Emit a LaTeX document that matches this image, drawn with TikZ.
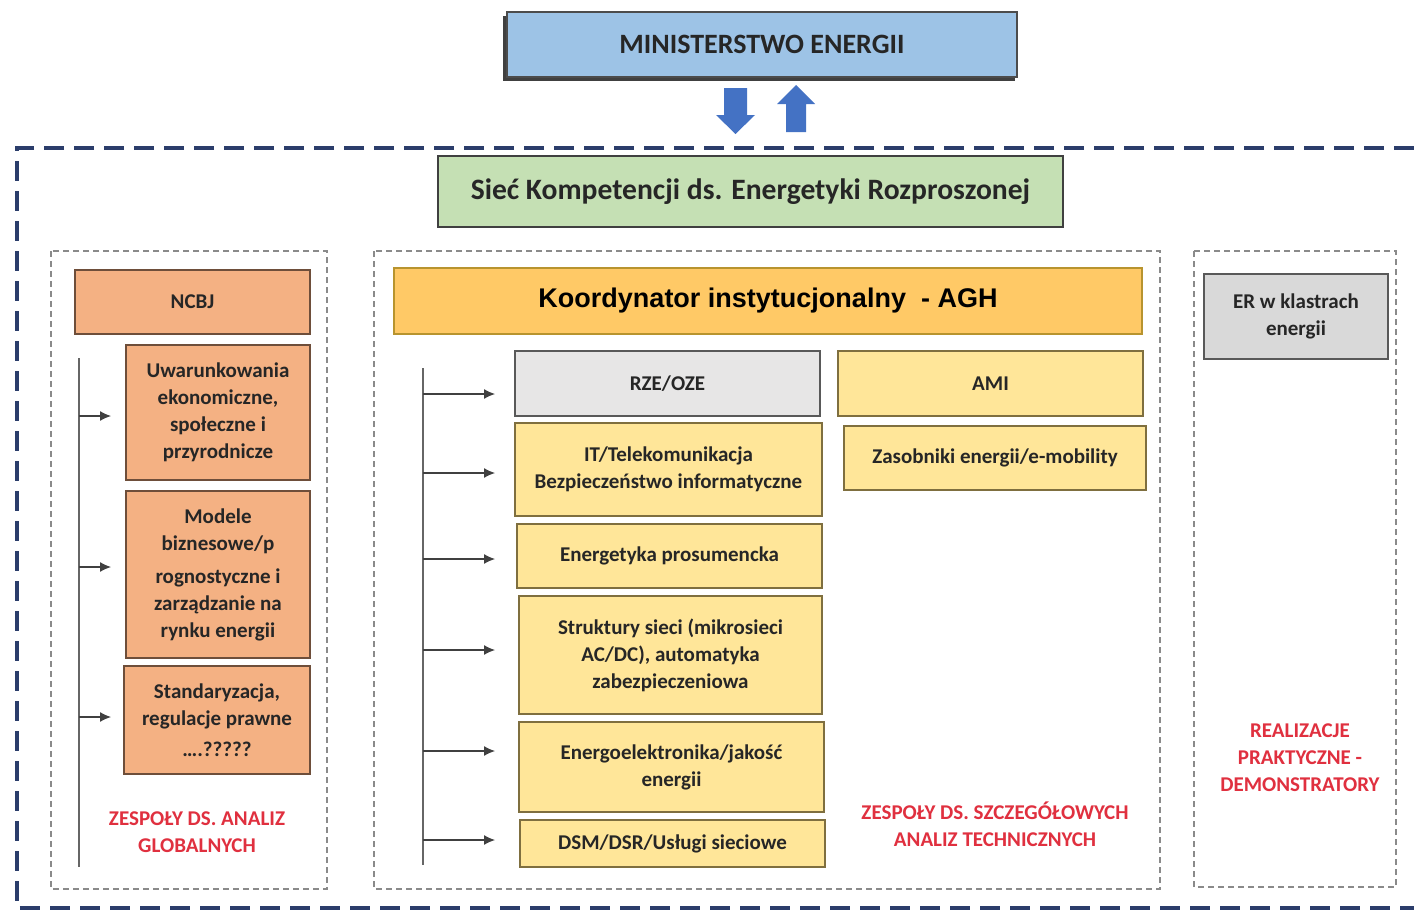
\documentclass[tikz,border=0pt]{standalone}
\usepackage{fontspec}
\setmainfont{Carlito}
\newfontfamily\arialf{Liberation Sans}
\usetikzlibrary{arrows.meta}
\definecolor{minblue}{HTML}{9DC3E6}
\definecolor{arrblue}{HTML}{4472C4}
\definecolor{navy}{HTML}{2B3D6B}
\definecolor{sgreen}{HTML}{C5E0B4}
\definecolor{sorange}{HTML}{F4B183}
\definecolor{obord}{HTML}{6E4E3A}
\definecolor{kyellow}{HTML}{FFC966}
\definecolor{kbord}{HTML}{B8942E}
\definecolor{lyellow}{HTML}{FFE699}
\definecolor{ybord}{HTML}{7F6F3F}
\definecolor{lgray}{HTML}{E7E6E6}
\definecolor{mgray}{HTML}{D9D9D9}
\definecolor{gbord}{HTML}{595959}
\definecolor{redtxt}{HTML}{E0303F}
\definecolor{frame}{HTML}{8A8A8A}
\tikzset{
  x=0.5pt,y=-0.5pt,
  box/.style={draw, line width=0.9pt, inner sep=0pt, align=center, font=\bfseries\fontsize{10.5}{13.5}\selectfont, text=black!85},
  obox/.style={box, fill=sorange, draw=obord},
  ybox/.style={box, fill=lyellow, draw=ybord},
  gbox/.style={box, fill=lgray, draw=gbord},
  grp/.style={draw=frame, line width=0.6pt, dash pattern=on 3pt off 2pt},
  redlbl/.style={text=redtxt, align=center, font=\bfseries\fontsize{10.5}{13.5}\selectfont},
  feed/.style={-{Latex[length=5.5pt,width=5pt]}, line width=0.6pt, draw=black!75},
  bus/.style={line width=0.9pt, draw=black!60},
}
% \bx{style}{name}{x1}{y1}{x2}{y2}{text}
\newcommand\bx[7]{%
  \node[#1, minimum width={(#5-#3)*0.5pt}, minimum height={(#6-#4)*0.5pt}]
    (#2) at ({(#3+#5)/2},{(#4+#6)/2}) {#7};}
\begin{document}
\begin{tikzpicture}
\useasboundingbox (0,0) rectangle (1414,910);
\fill[white] (0,0) rectangle (1414,910);
% Ministerstwo
\fill[black!75] (503,16) rectangle (1015,81);
\bx{box, fill=minblue, draw=black!70, font=\bfseries\fontsize{14}{16}\selectfont}{min}{507}{12}{1017}{77}{MINISTERSTWO ENERGII}
% block arrows
\fill[arrblue] (724,88) -- (747,88) -- (747,115) -- (755,115) -- (735.5,134) -- (716,115) -- (724,115) -- cycle;
\fill[arrblue] (786,132) -- (806,132) -- (806,104) -- (815,104) -- (796,85) -- (777,104) -- (786,104) -- cycle;
% outer dashed frame
\draw[navy, line width=2pt, dash pattern=on 10pt off 5pt] (1414,148) -- (17,148) -- (17,908) -- (1414,908);
% green
\bx{box, fill=sgreen, draw=black!75, font=\bfseries\fontsize{14.8}{16}\selectfont}{siec}{438}{156}{1063}{227}{Sieć Kompetencji ds. Energetyki Rozproszonej}
% group frames
\draw[grp] (51,251) rectangle (327,889);
\draw[grp] (374,251) rectangle (1160,889);
\draw[grp] (1194,251) rectangle (1396,887);
% left column
\bx{obox}{ncbj}{75}{270}{310}{334}{NCBJ}
\bx{obox}{uwar}{126}{345}{310}{480}{Uwarunkowania\\ekonomiczne,\\społeczne i\\przyrodnicze}
\bx{obox}{mod}{126}{491}{310}{658}{Modele\\biznesowe/p\\[3pt]rognostyczne i\\zarządzanie na\\rynku energii}
\bx{obox}{std}{124}{666}{310}{774}{Standaryzacja,\\regulacje prawne\\[2pt]….?????}
\coordinate (lt) at (79,358);
\coordinate (lb) at (79,867);
\draw[bus] (lt) -- (lb);
\foreach \yy/\nm in {416/uwar,567/mod,717/std} {
  \coordinate (a\nm) at (111,\yy);
  \draw[feed] (79,\yy) -- (a\nm);
}
\node[redlbl] (zg) at (197,832) {ZESPOŁY DS. ANALIZ\\GLOBALNYCH};
% middle column
\bx{box, fill=kyellow, draw=kbord, text=black, font=\arialf\bfseries\fontsize{13.5}{16}\selectfont}{koord}{394}{268}{1142}{334}{Koordynator instytucjonalny \ - AGH}
\bx{gbox}{rze}{515}{351}{820}{416}{RZE/OZE}
\bx{ybox}{ami}{838}{351}{1143}{416}{AMI}
\bx{ybox}{it}{515}{423}{822}{516}{IT/Telekomunikacja\\Bezpieczeństwo informatyczne}
\bx{ybox}{zas}{844}{426}{1146}{490}{Zasobniki energii/e-mobility}
\bx{ybox}{pros}{517}{524}{822}{588}{Energetyka prosumencka}
\bx{ybox}{str}{519}{596}{822}{714}{Struktury sieci (mikrosieci\\AC/DC), automatyka\\zabezpieczeniowa}
\bx{ybox}{eel}{519}{722}{824}{812}{Energoelektronika/jakość\\energii}
\bx{ybox}{dsm}{520}{820}{825}{867}{DSM/DSR/Usługi sieciowe}
\coordinate (mt) at (423,368);
\coordinate (mb) at (423,865);
\draw[bus] (mt) -- (mb);
\foreach \yy/\nm in {394/rze,473/it,559/pros,650/str,751/eel,840/dsm} {
  \coordinate (a\nm) at (495,\yy);
  \draw[feed] (423,\yy) -- (a\nm);
}
\node[redlbl] (zt) at (995,824) {ZESPOŁY DS. SZCZEGÓŁOWYCH\\ANALIZ TECHNICZNYCH};
% right column
\bx{box, fill=mgray, draw=gbord, line width=1.2pt}{er}{1204}{274}{1388}{359}{ER w klastrach\\energii}
\node[redlbl] (real) at (1300,758) {REALIZACJE\\PRAKTYCZNE -\\DEMONSTRATORY};
\end{tikzpicture}
\end{document}
